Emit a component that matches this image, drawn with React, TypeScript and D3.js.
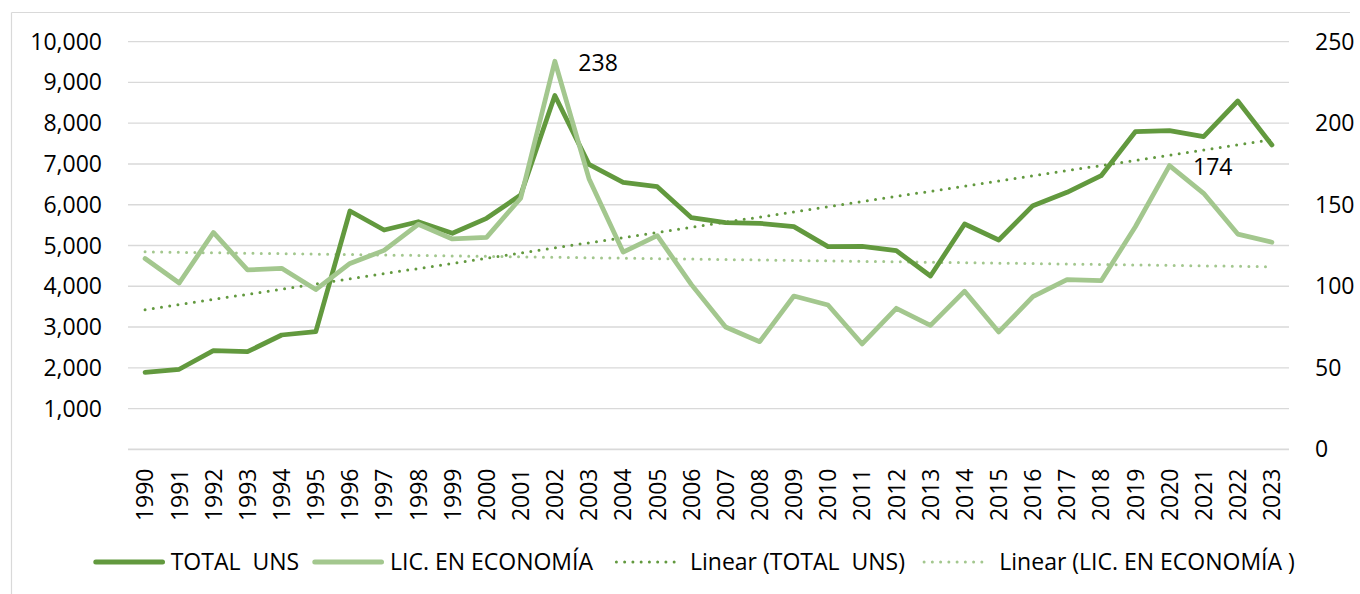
import React from "react";
import * as d3 from "d3";

const years: string[] = [
  "1990","1991","1992","1993","1994","1995","1996","1997","1998","1999",
  "2000","2001","2002","2003","2004","2005","2006","2007","2008","2009",
  "2010","2011","2012","2013","2014","2015","2016","2017","2018","2019",
  "2020","2021","2022","2023",
];

const totalUNS: number[] = [
  1890, 1963, 2419, 2395, 2804, 2886, 5846, 5380, 5584, 5300,
  5667, 6239, 8680, 6990, 6550, 6443, 5683, 5560, 5545, 5462,
  4972, 4980, 4873, 4252, 5527, 5135, 5977, 6305, 6713, 7792,
  7817, 7669, 8545, 7466,
];

const licEconomia: number[] = [
  117, 102, 133, 110, 111, 98, 114, 122, 138, 129,
  130, 154, 238, 166, 121, 131, 101, 75, 66, 94,
  88.5, 64.6, 86.5, 76, 97, 72, 93.6, 104, 103.4, 136.5,
  174, 157, 132, 127,
];

const leftTicks: number[] = [1000, 2000, 3000, 4000, 5000, 6000, 7000, 8000, 9000, 10000];
const gridTicks: number[] = [0, 1000, 2000, 3000, 4000, 5000, 6000, 7000, 8000, 9000, 10000];
const rightTicks: number[] = [0, 50, 100, 150, 200, 250];

const labelledYears: string[] = ["2002", "2020"];

const legendNames: string[] = [
  "TOTAL  UNS",
  "LIC. EN ECONOMÍA",
  "Linear (TOTAL  UNS)",
  "Linear (LIC. EN ECONOMÍA )",
];

const DARK = "#62993E";
const LIGHT = "#A3C78E";
const GRID = "#D9D9D9";
const FONT = "'Open Sans', 'Noto Sans', sans-serif";

function linearFit(vals: number[]) {
  const n = vals.length;
  const xs = vals.map((_, i) => i + 1);
  const mx = d3.mean(xs) as number;
  const my = d3.mean(vals) as number;
  let num = 0;
  let den = 0;
  for (let i = 0; i < n; i++) {
    num += (xs[i] - mx) * (vals[i] - my);
    den += (xs[i] - mx) * (xs[i] - mx);
  }
  const b = num / den;
  const a = my - b * mx;
  return xs.map((x) => a + b * x);
}

export default function App() {
  const W = 1360;
  const H = 594;
  const plotLeft = 128;
  const plotRight = 1289;
  const yBottom = 449.3;
  const yTop = 41.7;

  const xBand = d3.scaleBand<string>().domain(years).range([plotLeft, plotRight]);
  const x = (yr: string) => (xBand(yr) as number) + xBand.bandwidth() / 2;
  const yL = d3.scaleLinear().domain([0, 10000]).range([yBottom, yTop]);
  const yR = d3.scaleLinear().domain([0, 250]).range([yBottom, yTop]);

  const lineL = d3
    .line<number>()
    .x((_, i) => x(years[i]))
    .y((d) => yL(d));
  const lineR = d3
    .line<number>()
    .x((_, i) => x(years[i]))
    .y((d) => yR(d));

  const trendTotal = linearFit(totalUNS);
  const trendLic = linearFit(licEconomia);

  const fontSize = 23;

  const legendX = [93.3, 312.3, 615, 922.7];
  const legendY = 562;
  const legendTextX = [170.7, 390, 690, 999.3];

  return (
    <svg
      width={W}
      height={H}
      style={{ position: "absolute", left: 0, top: 0, background: "#fff" }}
      fontFamily={FONT}
    >
      <rect x={0} y={0} width={W} height={H} fill="#fff" />
      {/* chart border */}
      <line x1={11.5} y1={12.5} x2={1350} y2={12.5} stroke={GRID} strokeWidth={1.2} />
      <line x1={11.5} y1={12.5} x2={11.5} y2={H} stroke={GRID} strokeWidth={1.2} />

      {/* gridlines */}
      {gridTicks.map((t) => (
        <line
          key={"g" + t}
          x1={plotLeft}
          x2={plotRight}
          y1={yL(t)}
          y2={yL(t)}
          stroke={GRID}
          strokeWidth={t === 0 ? 1.8 : 1.3}
        />
      ))}

      {/* left axis labels */}
      {leftTicks.map((t) => (
        <text key={"l" + t} x={102} y={yL(t) + 8} textAnchor="end" fontSize={fontSize} fill="#000">
          {d3.format(",")(t)}
        </text>
      ))}

      {/* right axis labels */}
      {rightTicks.map((t) => (
        <text key={"r" + t} x={1315} y={yR(t) + 8} textAnchor="start" fontSize={fontSize} fill="#000">
          {t}
        </text>
      ))}

      {/* x labels */}
      {years.map((yr) => (
        <text
          key={"x" + yr}
          transform={`translate(${x(yr)},${468.5}) rotate(-90)`}
          textAnchor="end"
          dy="0.36em"
          fontSize={fontSize}
          fill="#000"
        >
          {yr}
        </text>
      ))}

      {/* trendlines (first to last category) */}
      <line
        x1={x(years[0])}
        y1={yR(trendLic[0])}
        x2={x(years[years.length - 1])}
        y2={yR(trendLic[trendLic.length - 1])}
        stroke={LIGHT}
        strokeWidth={3}
        strokeDasharray="0 8.3"
        strokeLinecap="round"
      />
      <line
        x1={x(years[0])}
        y1={yL(trendTotal[0])}
        x2={x(years[years.length - 1])}
        y2={yL(trendTotal[trendTotal.length - 1])}
        stroke={DARK}
        strokeWidth={3}
        strokeDasharray="0 8.3"
        strokeLinecap="round"
      />

      {/* series lines */}
      <path
        d={lineL(totalUNS) as string}
        fill="none"
        stroke={DARK}
        strokeWidth={4.75}
        strokeLinejoin="round"
        strokeLinecap="round"
      />
      <path
        d={lineR(licEconomia) as string}
        fill="none"
        stroke={LIGHT}
        strokeWidth={4.75}
        strokeLinejoin="round"
        strokeLinecap="round"
      />

      {/* data labels */}
      {labelledYears.map((yr) => {
        const i = years.indexOf(yr);
        return (
          <text key={"dl" + yr} x={x(yr) + 23.5} y={yR(licEconomia[i]) + 9.5} fontSize={fontSize} fill="#000">
            {Math.round(licEconomia[i])}
          </text>
        );
      })}

      {/* legend */}
      {legendNames.map((name, i) => {
        const sx = legendX[i];
        const dotted = i >= 2;
        const color = i % 2 === 0 ? DARK : LIGHT;
        return (
          <g key={"lg" + i}>
            {dotted ? (
              <line
                x1={sx + 1.4}
                x2={sx + 67.4}
                y1={legendY}
                y2={legendY}
                stroke={color}
                strokeWidth={3}
                strokeDasharray="0 8.25"
                strokeLinecap="round"
              />
            ) : (
              <line
                x1={sx + 2.5}
                x2={sx + 69.2}
                y1={legendY}
                y2={legendY}
                stroke={color}
                strokeWidth={5}
                strokeLinecap="round"
              />
            )}
            <text
              x={legendTextX[i]}
              y={569.5}
              fontSize={fontSize}
              fill="#000"
              style={{ whiteSpace: "pre" }}
              xmlSpace="preserve"
            >
              {name}
            </text>
          </g>
        );
      })}
    </svg>
  );
}
